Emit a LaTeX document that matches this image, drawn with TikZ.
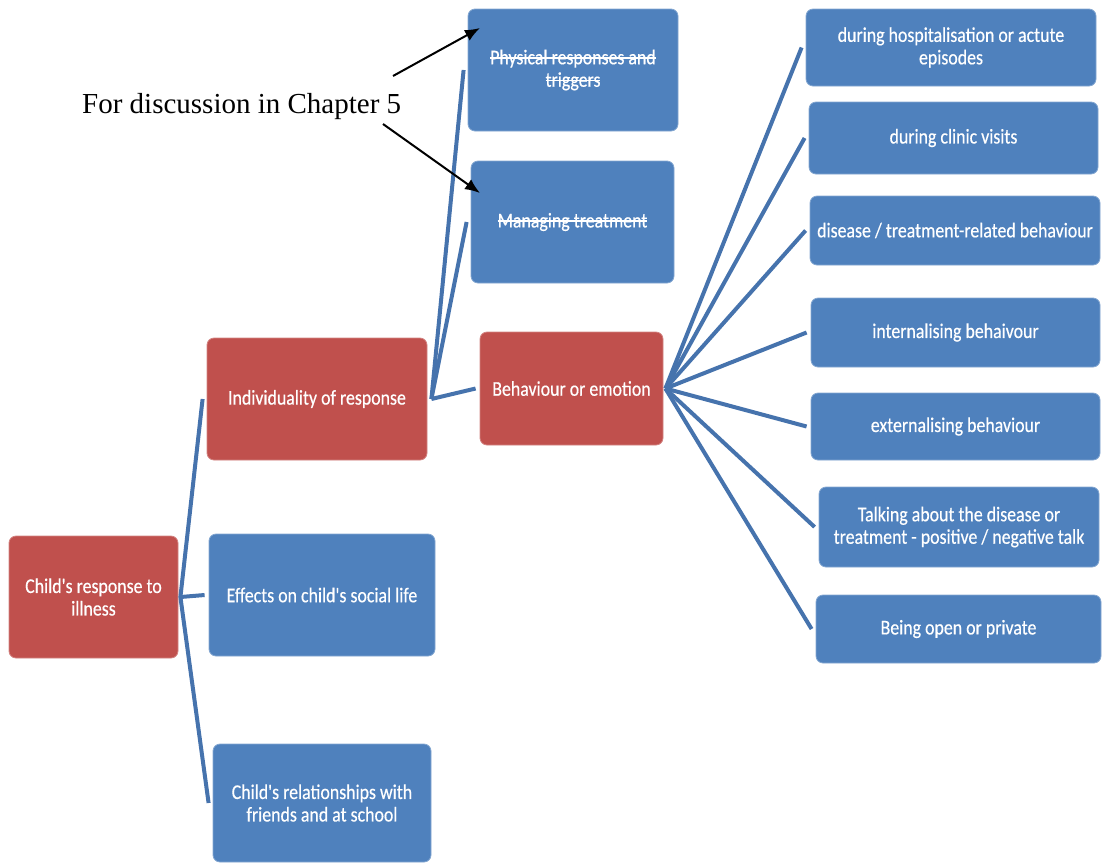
\documentclass[tikz,border=0pt]{standalone}
\usepackage{fontspec}
\setmainfont{Liberation Serif}
\newfontfamily\boxfont[FakeStretch=0.85,FakeBold=0.4]{Carlito}
\usetikzlibrary{arrows.meta}
\definecolor{boxblue}{HTML}{4F81BD}
\definecolor{boxred}{HTML}{C0504D}
\definecolor{linkblue}{HTML}{4673AD}
% struck-through text
\newsavebox\strkbox
\newcommand\strk[1]{\sbox\strkbox{#1}\rlap{\usebox\strkbox}\rule[0.27em]{\wd\strkbox}{1.5pt}}
\tikzset{
  card/.style={rectangle, rounded corners=7pt, text=white, align=center,
    font=\boxfont\fontsize{21}{22.5}\selectfont, inner sep=2pt, line width=0.8pt},
  bluecard/.style={card, fill=boxblue, draw=boxblue!70!white},
  redcard/.style={card, fill=boxred, draw=boxred!70!white},
  link/.style={draw=linkblue, line width=4pt},
  pointer/.style={draw=black, line width=2pt, -{Latex[length=15pt,width=12pt]}}
}
\begin{document}
\begin{tikzpicture}[x=1pt,y=-1pt]
\useasboundingbox (0,0) rectangle (1102,863);

% first level
\node[redcard, minimum width=169pt, minimum height=122pt] (root) at (93.5,597) {Child's response to\\illness};
\node[redcard, minimum width=220pt, minimum height=122pt] (indiv) at (317,399) {Individuality of response};
\node[bluecard, minimum width=226pt, minimum height=122pt] (social) at (322,595) {Effects on child's social life};
\node[bluecard, minimum width=218pt, minimum height=118pt] (friends) at (322,803) {Child's relationships with\\friends and at school};

% second level
\node[bluecard, minimum width=210pt, minimum height=122pt] (phys) at (573,70) {\strk{Physical responses and}\\\strk{triggers}};
\node[bluecard, minimum width=203pt, minimum height=122pt] (manage) at (572.5,222) {\strk{Managing treatment}};
\node[redcard, minimum width=183pt, minimum height=113pt] (behav) at (571.5,388.5) {Behaviour or emotion};

% third level
\node[bluecard, minimum width=290pt, minimum height=77pt] (hosp) at (951,47.5) {during hospitalisation or actute\\episodes};
\node[bluecard, minimum width=289pt, minimum height=72pt] (clinic) at (953.5,138) {during clinic visits};
\node[bluecard, minimum width=290pt, minimum height=69pt] (disease) at (955,230.5) {disease / treatment-related behaviour};
\node[bluecard, minimum width=289pt, minimum height=69pt] (intern) at (955.5,332.5) {internalising behaivour};
\node[bluecard, minimum width=289pt, minimum height=67pt] (extern) at (955.5,426.5) {externalising behaviour};
\node[bluecard, minimum width=280pt, minimum height=80pt] (talk) at (959,527) {Talking about the disease or\\treatment - positive / negative talk};
\node[bluecard, minimum width=285pt, minimum height=68pt] (open) at (958.5,629) {Being open or private};

% tree connectors
\foreach \child in {indiv, social, friends}
  \draw[link] ([xshift=2pt]root.east) -- ([xshift=-4pt]\child.west);
\foreach \child in {phys, manage, behav}
  \draw[link] ([xshift=4pt]indiv.east) -- ([xshift=-4pt]\child.west);
\foreach \child in {hosp, clinic, disease, intern, extern, talk, open}
  \draw[link] ([xshift=2pt]behav.east) -- ([xshift=-4pt]\child.west);

% annotation
\node[anchor=base west, inner sep=0pt, font=\fontsize{29}{34}\selectfont] (note) at (82,113) {For discussion in Chapter 5};
\coordinate (noteA) at (393,76);
\coordinate (noteB) at (383,124);
\coordinate (tipA) at (480,28);
\coordinate (tipB) at (480,193);
\draw[pointer] (noteA) -- (tipA);
\draw[pointer] (noteB) -- (tipB);
\end{tikzpicture}
\end{document}
